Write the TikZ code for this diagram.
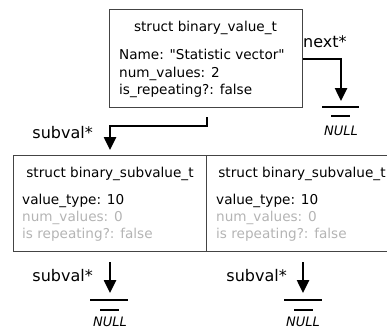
\documentclass[tikz,border=0pt]{standalone}
\usepackage{fontspec}
\setmainfont{DejaVu Sans}
\usetikzlibrary{arrows.meta}
\definecolor{grayt}{HTML}{B4B4B4}
\definecolor{boxline}{HTML}{444444}
\newcommand\straightdq{\XeTeXglyph\XeTeXcharglyph"22\relax}
\begin{document}
\begin{tikzpicture}[x=1pt,y=-1pt,
  boxstyle/.style={draw=boxline,line width=1pt,inner sep=0pt},
  txt/.style={anchor=base west,inner sep=0pt,font=\fontsize{13.6}{16}\selectfont},
  ttl/.style={anchor=base,inner sep=0pt,font=\fontsize{13.6}{16}\selectfont},
  graytxt/.style={txt,text=grayt},
  lbl/.style={inner sep=0pt,font=\fontsize{16}{19}\selectfont},
  nulltxt/.style={anchor=base,inner sep=0pt,font=\itshape\fontsize{13}{16}\selectfont},
  ptr/.style={line width=2.5pt,-{Triangle[length=13pt,width=12pt]}},
  gnd/.style={line width=2.5pt}]
\useasboundingbox (0,0) rectangle (387,329);
% top box
\node[boxstyle,minimum width=193pt,minimum height=97pt] (top) at (205.5,58.5) {};
\node[ttl] (toptitle) at (205.5,31) {struct binary\_value\_t};
\node[txt] (tname) at (119,59) {Name: \straightdq Statistic vector\straightdq};
\node[txt] (tnum) at (119,77) {num\_values: 2};
\node[txt] (trep) at (119,94) {is\_repeating?: false};
% next pointer
\coordinate (nextstart) at (top.east |- 0,59);
\coordinate (nextcorner) at (341,59);
\coordinate (nextend) at (341,101);
\draw[ptr] (nextstart) -- (nextcorner) -- (nextend);
\node[lbl,anchor=base west] (nextlbl) at (303,48) {next*};
\coordinate (g1a) at (322,107); \coordinate (g1b) at (359,107);
\coordinate (g1c) at (331,116); \coordinate (g1d) at (350,116);
\draw[gnd] (g1a) -- (g1b); \draw[gnd] (g1c) -- (g1d);
\node[nulltxt] (null1) at (341,135.5) {NULL};
% subval pointer from top
\coordinate (sstart) at (207,117);
\coordinate (scorner1) at (207,126);
\coordinate (scorner2) at (110,126);
\coordinate (send) at (110,150);
\draw[ptr] (sstart) -- (scorner1) -- (scorner2) -- (send);
\node[lbl,anchor=base east] (slbl) at (93,138) {subval*};
% bottom boxes
\begin{scope}
\clip (0,0) rectangle (387,329);
\node[boxstyle,minimum width=193pt,minimum height=96pt,anchor=north west] (sub1) at (13,155) {};
\node[boxstyle,minimum width=193pt,minimum height=96pt,anchor=north west] (sub2) at (206,155) {};
\end{scope}
\node[ttl] (s1title) at (110,177) {struct binary\_subvalue\_t};
\node[txt] (s1type) at (22,204) {value\_type: 10};
\node[graytxt] (s1num) at (22,221) {num\_values: 0};
\node[graytxt] (s1rep) at (22,238) {is repeating?: false};
\node[ttl] (s2title) at (302,177) {struct binary\_subvalue\_t};
\node[txt] (s2type) at (216,204) {value\_type: 10};
\node[graytxt] (s2num) at (216,221) {num\_values: 0};
\node[graytxt] (s2rep) at (216,238) {is repeating?: false};
% bottom pointers
\coordinate (b1s) at (110,262); \coordinate (b1e) at (110,293);
\draw[ptr] (b1s) -- (b1e);
\node[lbl,anchor=base east] (b1lbl) at (93,281) {subval*};
\draw[gnd] (90,300) -- (128,300); \draw[gnd] (100,310) -- (119,310);
\node[nulltxt] (null2) at (110,326) {NULL};
\coordinate (b2s) at (303,262); \coordinate (b2e) at (303,293);
\draw[ptr] (b2s) -- (b2e);
\node[lbl,anchor=base east] (b2lbl) at (287,281) {subval*};
\draw[gnd] (284,300) -- (322,300); \draw[gnd] (294,310) -- (313,310);
\node[nulltxt] (null3) at (303,326) {NULL};
\end{tikzpicture}
\end{document}
